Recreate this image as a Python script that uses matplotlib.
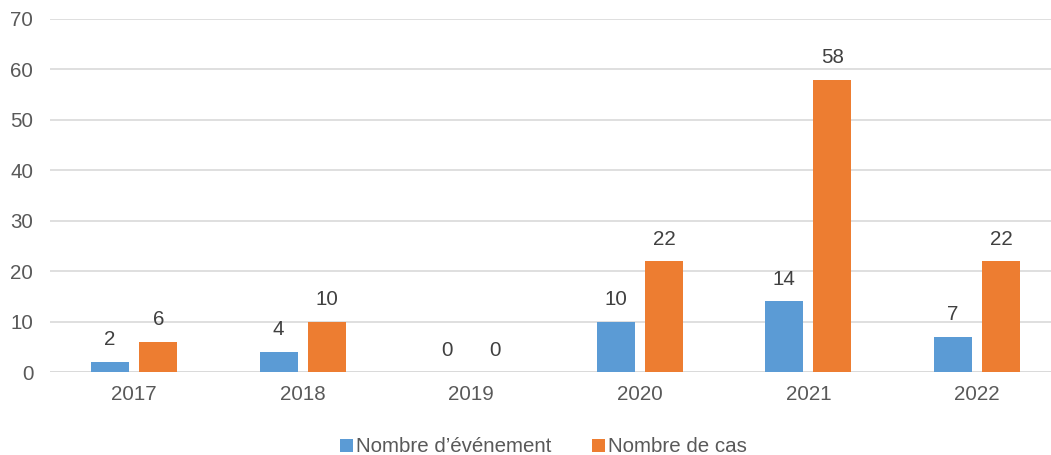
import matplotlib
matplotlib.use("Agg")
import matplotlib.pyplot as plt
import numpy as np

years = ["2017", "2018", "2019", "2020", "2021", "2022"]
evenements = [2, 4, 0, 10, 14, 7]
cas = [6, 10, 0, 22, 58, 22]
series_names = ["Nombre d\u2019événement", "Nombre de cas"]

plt.rcParams['font.family'] = ['Liberation Sans', 'DejaVu Sans']
txt = '#595959'

fig = plt.figure(figsize=(10.51, 4.55), dpi=100)
ax = fig.add_axes([50/1051, (455-372)/455, 1 - 50/1051, (372-19)/455])

x = np.arange(len(years))
w = 0.225
off = 0.143
b1 = ax.bar(x - off, evenements, w, color='#5B9BD5', label=series_names[0], zorder=3)
b2 = ax.bar(x + off, cas, w, color='#ED7D31', label=series_names[1], zorder=3)

for bars, vals in ((b1, evenements), (b2, cas)):
    for r, v in zip(bars, vals):
        ax.annotate(str(v), (r.get_x() + r.get_width()/2, v), xytext=(0, 9),
                    textcoords='offset points', ha='center', va='bottom',
                    fontsize=14.8, color='#404040')

ax.set_ylim(0, 70)
ax.set_yticks(range(0, 71, 10))
ax.set_xlim(-0.5, 5.44)
ax.set_xticks(x)
ax.set_xticklabels(years)
ax.grid(axis='y', color='#D9D9D9', linewidth=1.2, zorder=0)
for s in ax.spines.values():
    s.set_visible(False)
ax.tick_params(length=0, labelsize=14.8, colors=txt)
ax.tick_params(axis='y', pad=12)
ax.tick_params(axis='x', pad=9)
ax.axhline(0, color='#D9D9D9', linewidth=1.2, zorder=2)

leg = fig.legend(handles=[b1, b2], loc='center', bbox_to_anchor=(0.517, 0.018),
                 ncol=2, frameon=False, fontsize=14.8, handlelength=0.6, handleheight=0.6,
                 handletextpad=0.15, columnspacing=2.0, labelcolor=txt)

fig.savefig('out.png', dpi=100)
